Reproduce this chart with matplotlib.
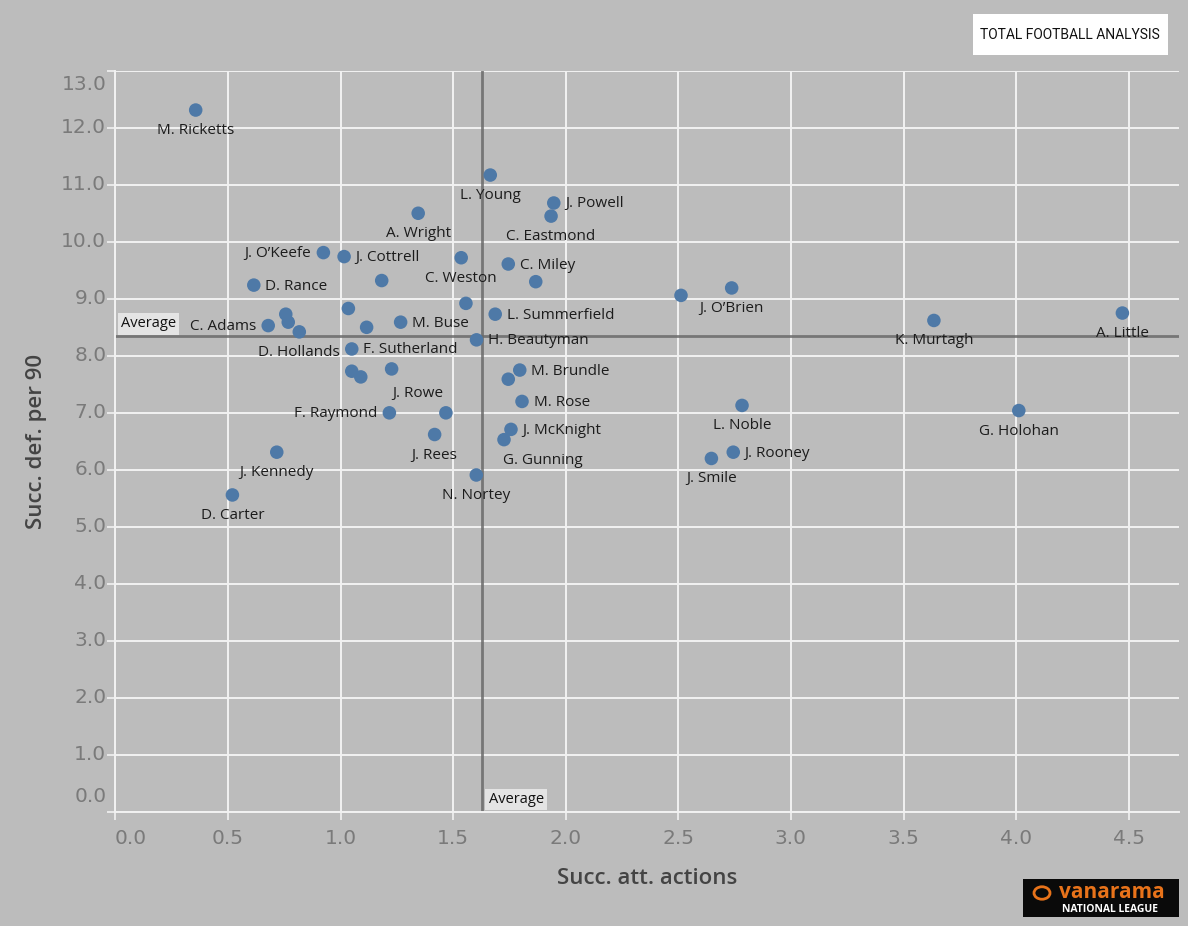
import matplotlib
matplotlib.use("Agg")
import matplotlib.pyplot as plt
from matplotlib.patches import Rectangle, Circle

# ---------------- data ----------------
players = [
    "M. Ricketts", "L. Young", "J. Powell", "A. Wright", "C. Eastmond",
    "J. O’Keefe", "J. Cottrell", "C. Weston", "C. Miley", "",
    "", "D. Rance", "J. O’Brien", "", "",
    "", "A. Little", "L. Summerfield", "", "K. Murtagh",
    "M. Buse", "", "C. Adams", "", "D. Hollands",
    "H. Beautyman", "F. Sutherland", "J. Rowe", "M. Brundle", "",
    "", "", "M. Rose", "L. Noble", "G. Holohan",
    "F. Raymond", "", "J. McKnight", "J. Rees", "G. Gunning",
    "J. Rooney", "J. Kennedy", "J. Smile", "N. Nortey", "D. Carter",
]
succ_att = [
    0.357, 1.665, 1.947, 1.345, 1.935,
    0.924, 1.016, 1.536, 1.745, 1.183,
    1.867, 0.615, 2.737, 2.512, 1.557,
    1.035, 4.472, 1.687, 0.757, 3.635,
    1.267, 0.768, 0.679, 1.116, 0.817,
    1.604, 1.050, 1.227, 1.796, 1.050,
    1.090, 1.745, 1.806, 2.783, 4.012,
    1.217, 1.468, 1.757, 1.418, 1.726,
    2.744, 0.717, 2.647, 1.603, 0.520,
]
succ_def = [
    12.31, 11.17, 10.68, 10.50, 10.45,
    9.81, 9.74, 9.72, 9.61, 9.32,
    9.30, 9.24, 9.19, 9.06, 8.92,
    8.83, 8.75, 8.73, 8.73, 8.62,
    8.59, 8.59, 8.53, 8.50, 8.42,
    8.28, 8.12, 7.77, 7.75, 7.73,
    7.63, 7.59, 7.20, 7.13, 7.04,
    7.00, 7.00, 6.71, 6.62, 6.53,
    6.31, 6.31, 6.20, 5.91, 5.56,
]
avg_att = 1.627
avg_def = 8.35
x_ticks = [0.0, 0.5, 1.0, 1.5, 2.0, 2.5, 3.0, 3.5, 4.0, 4.5]
y_ticks = [0.0, 1.0, 2.0, 3.0, 4.0, 5.0, 6.0, 7.0, 8.0, 9.0, 10.0, 11.0, 12.0, 13.0]

# label placement (style only): b=below, r=right, l=left, or custom pixel offset
placement = {
    "J. Powell": "r", "J. O’Keefe": "l", "J. Cottrell": "r", "C. Miley": "r",
    "D. Rance": "r", "L. Summerfield": "r", "M. Buse": "r", "C. Adams": "l",
    "H. Beautyman": "r", "F. Sutherland": "r", "M. Brundle": "r", "M. Rose": "r",
    "F. Raymond": "l", "J. McKnight": "r", "J. Rooney": "r",
    "J. Rowe": (26, -25), "G. Gunning": (39, -20.5),
}

BG = "#bcbcbc"
W, H = 1188, 926
fig = plt.figure(figsize=(W / 100, H / 100), dpi=100, facecolor=BG)
x0, x1, y0, y1 = 115.3, 1179.0, 812.0, 70.7
ax = fig.add_axes([x0 / W, 1 - y0 / H, (x1 - x0) / W, (y0 - y1) / H])
ax.set_facecolor(BG)
ax.set_xlim(0, (x1 - x0) / 225.2)
ax.set_ylim(0, 13.0)

ax.set_xticks(x_ticks)
ax.set_yticks(y_ticks)
ax.grid(True, color="#f2f2f2", linewidth=1.4)
ax.set_axisbelow(True)
for s in ["top", "right"]:
    ax.spines[s].set_visible(False)
for s in ["left", "bottom"]:
    ax.spines[s].set_color("#f2f2f2")
    ax.spines[s].set_linewidth(1.4)
ax.tick_params(direction="out", length=6, width=1.2, color="#f2f2f2",
               labelleft=False, labelbottom=False)

tick_col = "#7a7a7a"
for v in x_ticks:
    dx = 15 if v == 0 else 0
    ax.annotate(f"{v:.1f}", xy=(v, 0), xytext=(dx, -27), textcoords="offset pixels",
                ha="center", va="center", fontsize=14.5, color=tick_col,
                family="DejaVu Sans", annotation_clip=False)
for v in y_ticks:
    dy = -14 if v == 13 else (16 if v == 0 else 0)
    ax.annotate(f"{v:.1f}", xy=(0, v), xytext=(-9, dy), textcoords="offset pixels",
                ha="right", va="center", fontsize=14.5, color=tick_col,
                family="DejaVu Sans", annotation_clip=False)

# average lines
ax.axhline(avg_def, color="#6a6a6a", linewidth=2, alpha=0.85, zorder=2)
ax.axvline(avg_att, color="#6a6a6a", linewidth=2, alpha=0.85, zorder=2)
box = dict(boxstyle="square,pad=0.22", fc="#e4e4e4", ec="none")
ax.annotate("Average", xy=(0, avg_def), xytext=(33, 12), textcoords="offset pixels",
            ha="center", va="center", fontsize=10.5, family="Open Sans",
            color="#111111", bbox=box, annotation_clip=False, zorder=4)
ax.annotate("Average", xy=(avg_att, 0), xytext=(34.5, 12.5), textcoords="offset pixels",
            ha="center", va="center", fontsize=10.5, family="Open Sans",
            color="#111111", bbox=box, annotation_clip=False, zorder=4)

ax.scatter(succ_att, succ_def, s=95, color="#4e79a7", edgecolors="none", zorder=3)

for name, xv, yv in zip(players, succ_att, succ_def):
    if not name:
        continue
    p = placement.get(name, "b")
    if p == "r":
        off, ha = (11.5, -1), "left"
    elif p == "l":
        off, ha = (-12, -1), "right"
    elif p == "b":
        off, ha = (0, -20.5), "center"
    else:
        off, ha = p, "center"
    ax.annotate(name, xy=(xv, yv), xytext=off, textcoords="offset pixels",
                ha=ha, va="center", fontsize=11, family="Open Sans",
                color="#1c1c1c", zorder=5)

# axis titles
fig.text(647 / W, 1 - 878 / H, "Succ. att. actions", ha="center", va="center",
         fontsize=16, fontweight="semibold", family="Open Sans", color="#444444")
fig.text(37 / W, 1 - 441 / H, "Succ. def. per 90", ha="center", va="center",
         rotation=90, fontsize=16, fontweight="semibold", family="Open Sans",
         color="#444444")

# Total Football Analysis badge
fig.patches.append(Rectangle((973 / W, 1 - 55 / H), 195 / W, 41 / H,
                             transform=fig.transFigure, fc="white", ec="none"))
fig.text(1070 / W, 1 - 35 / H, "TOTAL FOOTBALL ANALYSIS", ha="center", va="center",
         fontsize=10, family="Roboto", color="#111111")

# Vanarama badge
fig.patches.append(Rectangle((1023 / W, 1 - 917 / H), 156 / W, 38 / H,
                             transform=fig.transFigure, fc="#0a0a0a", ec="none"))
fig.patches.append(Circle((1042 / W, 1 - 893 / H), 8 / W, transform=fig.transFigure,
                          fc="none", ec="#e8731a", lw=2))
fig.text(1112 / W, 1 - 892 / H, "vanarama", ha="center", va="center",
         fontsize=15, fontweight="bold", family="Open Sans", color="#e8731a")
fig.text(1110 / W, 1 - 909 / H, "NATIONAL LEAGUE", ha="center", va="center",
         fontsize=7.5, fontweight="bold", family="Open Sans", color="white")

fig.savefig("out.png", dpi=100, facecolor=BG)
